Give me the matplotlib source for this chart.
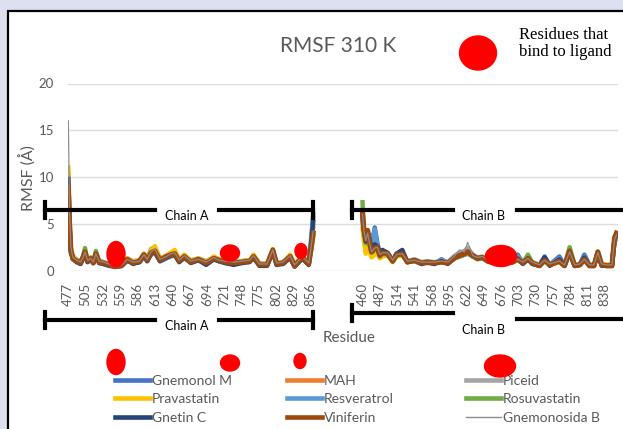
import numpy as np
import matplotlib
matplotlib.use('Agg')
import matplotlib.pyplot as plt
from matplotlib.lines import Line2D
from matplotlib.patches import Ellipse, Rectangle

plt.rcParams['font.family'] = ['Lato', 'DejaVu Sans']

# residues sampled along each chain
res_a = [477, 479, 481, 484, 490, 496, 500, 503, 507, 512, 516, 520, 525, 532, 541, 550, 560,
         569, 578, 588, 595, 600, 606, 612, 620, 630, 637, 643, 650, 658, 668, 680, 692, 704,
         712, 722, 735, 748, 760, 766, 775, 787, 796, 802, 812, 823, 830, 842, 852, 856, 859]
res_b = [460, 462, 465, 468, 471, 474, 479, 483, 487, 491, 499, 507, 513, 522, 530, 541, 552,
         561, 572, 583, 593, 604, 611, 619, 624, 632, 639, 647, 656, 668, 682, 694, 702, 710,
         718, 725, 736, 744, 752, 767, 775, 783, 791, 799, 806, 814, 821, 827, 833, 841, 849,
         853, 856]

tick_a = ['477', '505', '532', '559', '586', '613', '640', '667', '694', '721', '748', '775',
          '802', '829', '856']
tick_b = ['460', '487', '514', '541', '568', '595', '622', '649', '676', '703', '730', '757',
          '784', '811', '838']

names = ['Gnemonol M', 'MAH', 'Piceid', 'Pravastatin', 'Resveratrol', 'Rosuvastatin',
         'Gnetin C', 'Viniferin', 'Gnemonosida B']
colors = ['#4472C4', '#ED7D31', '#A5A5A5', '#FFC000', '#5B9BD5', '#70AD47',
          '#264478', '#9E480E', '#8c8c8c']

# RMSF (A), chain A
gnemonol_a = [10.2, 4.6, 2.0, 1.4, 1.1, 0.7, 1.3, 1.8, 1.1, 1.2, 0.9, 1.6, 1.0, 0.7, 0.5, 0.5, 0.6,
              1.0, 0.9, 0.9, 1.5, 1.2, 1.7, 2.0, 1.0, 1.3, 1.6, 1.7, 0.9, 1.4, 1.0, 1.1, 0.7, 1.2,
              1.0, 0.8, 0.7, 1.0, 1.1, 1.3, 0.7, 0.5, 2.0, 0.6, 0.9, 1.3, 0.6, 1.2, 0.8, 3.5, 6.0]
mah_a = [8.0, 4.2, 2.1, 1.2, 0.9, 0.9, 1.3, 1.9, 0.9, 1.2, 0.9, 1.7, 0.8, 0.7, 0.6, 0.5, 0.6,
         1.1, 0.8, 0.9, 1.6, 1.0, 1.8, 2.0, 1.2, 1.4, 1.6, 1.7, 1.1, 1.4, 1.0, 1.1, 0.9, 1.2,
         1.0, 0.8, 0.9, 0.8, 1.0, 1.4, 0.7, 0.6, 2.0, 0.8, 0.7, 1.4, 0.6, 1.3, 0.6, 2.2, 3.6]
piceid_a = [7.5, 3.8, 2.0, 1.5, 1.2, 0.9, 1.5, 2.1, 1.2, 1.4, 1.0, 1.8, 1.1, 0.9, 0.7, 0.5, 0.7,
            1.3, 1.0, 1.1, 1.8, 1.3, 2.3, 2.5, 1.3, 1.6, 1.9, 2.1, 1.2, 1.6, 1.1, 1.3, 1.0, 1.4,
            1.2, 1.0, 0.9, 1.0, 1.1, 1.6, 0.8, 0.7, 2.1, 0.8, 0.9, 1.6, 0.7, 1.5, 0.8, 2.8, 4.5]
prava_a = [11.0, 5.5, 2.4, 1.6, 1.1, 0.8, 1.5, 1.9, 1.1, 1.4, 0.9, 1.9, 1.0, 0.8, 0.6, 0.5, 0.6,
           1.3, 0.9, 1.1, 1.8, 1.2, 2.1, 2.6, 1.2, 1.6, 1.9, 2.2, 1.1, 1.7, 1.0, 1.3, 0.9, 1.5,
           1.2, 1.0, 0.8, 1.0, 1.1, 1.7, 0.7, 0.7, 2.3, 0.8, 0.8, 1.7, 0.6, 1.6, 0.8, 3.0, 4.8]
resv_a = [8.5, 4.4, 2.0, 1.2, 1.0, 0.8, 1.2, 1.7, 1.0, 1.1, 0.8, 1.6, 0.9, 0.7, 0.6, 0.4, 0.5,
          1.0, 0.8, 0.9, 1.5, 1.0, 1.7, 1.9, 1.0, 1.3, 1.5, 1.6, 1.0, 1.3, 0.9, 1.1, 0.8, 1.2,
          1.0, 0.9, 0.8, 0.9, 1.0, 1.3, 0.6, 0.6, 1.9, 0.7, 0.8, 1.3, 0.5, 1.3, 0.7, 3.2, 5.6]
rosu_a = [7.0, 3.5, 1.8, 1.3, 1.0, 0.9, 1.5, 2.4, 1.0, 1.3, 0.9, 2.1, 0.9, 0.8, 0.6, 0.5, 0.6,
          1.1, 0.8, 1.0, 1.6, 1.1, 1.8, 2.0, 1.1, 1.4, 1.6, 1.7, 1.0, 1.5, 0.9, 1.2, 0.8, 1.3,
          1.1, 0.9, 0.8, 0.9, 1.0, 1.5, 0.6, 0.6, 2.1, 0.7, 0.8, 1.5, 0.5, 1.4, 0.7, 2.4, 3.8]
gnetin_a = [9.8, 4.8, 2.1, 1.3, 0.9, 0.7, 1.3, 1.9, 0.9, 1.2, 0.8, 1.7, 0.8, 0.7, 0.5, 0.4, 0.5,
            1.1, 0.7, 0.9, 1.6, 1.0, 1.8, 2.0, 1.0, 1.4, 1.6, 1.7, 0.9, 1.4, 0.8, 1.1, 0.6, 1.2,
            1.0, 0.8, 0.6, 0.8, 0.9, 1.4, 0.5, 0.5, 2.1, 0.6, 0.7, 1.4, 0.4, 1.3, 0.6, 3.0, 5.2]
vinif_a = [9.0, 5.0, 2.2, 1.3, 1.0, 0.8, 1.4, 2.0, 1.0, 1.3, 0.8, 1.8, 0.9, 0.8, 0.6, 0.4, 0.5,
           1.2, 0.8, 1.0, 1.7, 1.1, 1.9, 2.1, 1.1, 1.5, 1.7, 1.8, 1.0, 1.5, 0.9, 1.2, 0.8, 1.3,
           1.1, 0.9, 0.8, 0.9, 1.0, 1.5, 0.6, 0.6, 2.2, 0.7, 0.8, 1.5, 0.5, 1.4, 0.7, 2.5, 4.0]
gnemonosida_a = [16.0, 6.0, 2.5, 1.4, 1.1, 0.9, 1.4, 2.0, 1.1, 1.3, 0.9, 1.8, 1.0, 0.9, 0.7, 0.5,
                 0.6, 1.2, 0.9, 1.0, 1.7, 1.2, 2.0, 2.3, 1.2, 1.5, 1.8, 1.9, 1.1, 1.6, 1.0, 1.2,
                 0.9, 1.4, 1.1, 1.0, 0.9, 1.0, 1.1, 1.6, 0.7, 0.7, 2.2, 0.8, 0.9, 1.6, 0.6, 1.5,
                 0.8, 2.6, 4.2]

# RMSF (A), chain B
gnemonol_b = [5.8, 4.0, 3.0, 3.6, 3.8, 2.6, 4.6, 3.0, 1.8, 2.0, 1.7, 1.1, 1.8, 1.9, 1.0, 1.0, 0.7,
              0.9, 0.7, 1.2, 0.8, 1.3, 1.5, 1.7, 1.8, 1.5, 1.4, 1.3, 1.1, 0.7, 0.9, 1.0, 1.7, 0.8,
              1.2, 0.7, 0.6, 1.5, 0.6, 1.5, 0.6, 1.8, 0.6, 0.7, 1.7, 0.6, 0.6, 1.7, 0.6, 0.5, 0.5,
              3.0, 3.6]
mah_b = [5.5, 4.2, 3.1, 3.9, 2.8, 1.9, 2.2, 2.3, 1.5, 1.8, 1.7, 1.0, 1.6, 1.7, 0.9, 1.0, 0.8,
         0.8, 0.8, 0.9, 0.8, 1.3, 1.5, 1.7, 1.9, 1.5, 1.2, 1.3, 0.9, 0.8, 0.8, 0.9, 1.1, 0.8,
         1.2, 0.8, 0.5, 1.0, 0.6, 0.9, 0.5, 1.9, 0.5, 0.6, 1.1, 0.5, 0.5, 1.8, 0.6, 0.5, 0.5,
         3.2, 3.8]
piceid_b = [5.0, 3.8, 2.8, 3.5, 2.6, 2.0, 2.3, 2.2, 1.6, 1.8, 1.9, 1.1, 1.6, 1.7, 1.0, 1.2, 0.9,
            1.0, 0.9, 1.0, 0.9, 1.6, 1.9, 2.1, 2.4, 1.7, 1.4, 1.5, 1.1, 0.9, 0.9, 1.0, 1.2, 0.9,
            1.3, 0.9, 0.6, 1.1, 0.7, 1.0, 0.6, 1.9, 0.6, 0.7, 1.2, 0.6, 0.6, 1.9, 0.7, 0.6, 0.6,
            3.0, 3.4]
prava_b = [4.5, 3.2, 1.8, 2.5, 2.0, 1.4, 1.7, 1.9, 1.3, 1.5, 1.6, 0.9, 1.5, 1.6, 0.9, 1.0, 0.8,
           0.9, 0.8, 0.9, 0.8, 1.3, 1.5, 1.7, 1.9, 1.5, 1.3, 1.4, 1.0, 0.8, 0.8, 0.9, 1.1, 0.9,
           1.3, 0.8, 0.6, 1.0, 0.6, 1.0, 0.6, 2.0, 0.6, 0.6, 1.1, 0.6, 0.6, 2.0, 0.7, 0.6, 0.6,
           3.3, 3.7]
resv_b = [6.0, 4.4, 3.2, 3.4, 3.6, 2.4, 4.4, 2.8, 1.7, 1.9, 1.7, 1.0, 1.7, 1.8, 0.9, 1.0, 0.8,
          0.8, 0.8, 1.1, 0.8, 1.3, 1.5, 1.7, 1.9, 1.5, 1.3, 1.3, 1.0, 0.8, 0.8, 0.9, 1.5, 0.8,
          1.2, 0.8, 0.5, 1.3, 0.6, 1.3, 0.5, 1.9, 0.5, 0.6, 1.5, 0.5, 0.5, 1.8, 0.6, 0.5, 0.5,
          3.2, 3.8]
rosu_b = [7.3, 4.0, 2.9, 3.7, 2.7, 1.9, 2.2, 2.3, 1.5, 1.8, 1.7, 1.0, 1.6, 1.7, 0.9, 1.0, 0.8,
          0.9, 0.8, 0.9, 0.8, 1.4, 1.5, 1.7, 1.9, 1.5, 1.3, 1.3, 1.0, 0.8, 0.8, 0.9, 1.2, 0.8,
          1.7, 0.8, 0.5, 1.0, 0.6, 1.0, 0.5, 2.5, 0.5, 0.6, 1.2, 0.5, 0.5, 1.9, 0.6, 0.5, 0.5,
          3.4, 3.9]
gnetin_b = [5.9, 4.3, 3.1, 4.0, 3.4, 2.2, 2.8, 2.6, 1.7, 2.2, 1.9, 1.0, 1.8, 2.2, 0.9, 1.1, 0.7,
            0.9, 0.7, 1.0, 0.7, 1.4, 1.6, 1.8, 2.0, 1.6, 1.3, 1.4, 1.0, 0.7, 0.8, 0.9, 1.3, 0.7,
            1.2, 0.7, 0.5, 1.4, 0.5, 1.2, 0.5, 1.9, 0.5, 0.6, 1.4, 0.5, 0.5, 1.8, 0.5, 0.5, 0.5,
            3.3, 3.8]
vinif_b = [6.2, 4.5, 3.3, 4.3, 3.0, 2.0, 2.4, 2.5, 1.6, 1.9, 1.8, 1.0, 1.7, 1.8, 0.9, 1.1, 0.8,
           0.9, 0.8, 0.9, 0.8, 1.4, 1.6, 1.8, 2.0, 1.6, 1.3, 1.4, 1.0, 0.8, 0.8, 0.9, 1.2, 0.8,
           1.3, 0.8, 0.5, 1.1, 0.6, 1.0, 0.5, 2.1, 0.5, 0.6, 1.2, 0.5, 0.5, 2.0, 0.6, 0.5, 0.5,
           3.5, 4.0]
gnemonosida_b = [6.0, 4.3, 3.2, 4.0, 2.9, 2.0, 2.4, 2.5, 1.7, 1.9, 1.9, 1.1, 1.7, 1.8, 1.0, 1.1,
                 0.9, 0.9, 0.9, 1.0, 0.9, 1.6, 2.2, 2.0, 3.0, 1.6, 1.4, 1.5, 1.1, 0.9, 0.9, 1.0,
                 1.2, 0.9, 1.3, 0.9, 0.6, 1.1, 0.7, 1.0, 0.6, 2.0, 0.6, 0.7, 1.2, 0.6, 0.6, 1.9,
                 0.7, 0.6, 0.6, 3.3, 3.8]

series_a = [gnemonol_a, mah_a, piceid_a, prava_a, resv_a, rosu_a, gnetin_a, vinif_a, gnemonosida_a]
series_b = [gnemonol_b, mah_b, piceid_b, prava_b, resv_b, rosu_b, gnetin_b, vinif_b, gnemonosida_b]

W, H = 623, 429


def fx(px):
    return px / W


def fy(py):
    return 1 - py / H


# category index like excel: chain A from 0, chain B after a blank gap
xa = np.array(res_a) - 477
xb = np.array(res_b) - 1

fig = plt.figure(figsize=(W / 100, H / 100), dpi=100)
fig.patch.set_facecolor('#dde0f0')
fig.add_artist(Rectangle((fx(7.5), -0.05), 1.2, fy(10.5) + 0.05, transform=fig.transFigure,
                         facecolor='white', edgecolor='black', lw=1.6, zorder=-1))

ax = fig.add_axes([fx(68), fy(270.5), 550 / W, 187 / H])
ax.patch.set_alpha(0)
for i, name in enumerate(names):
    x = np.concatenate([xa, [np.nan], xb])
    y = np.concatenate([series_a[i], [np.nan], series_b[i]])
    if name == 'Gnemonosida B':
        lw = 0.9
    elif name == 'Viniferin':
        lw = 3.6
    else:
        lw = 3.2
    ax.plot(x, y, color=colors[i], lw=lw, label=name, solid_joinstyle='round')

ax.set_xlim(-0.5, 857.5)
ax.set_ylim(0, 20)
ax.set_yticks([0, 5, 10, 15, 20])
ax.grid(axis='y', color='#dcdcdc', lw=1)
ax.set_axisbelow(True)
for s in ax.spines.values():
    s.set_visible(False)
ticks = list(range(0, 379, 27)) + list(range(459, 838, 27))
ax.set_xticks(ticks)
ax.set_xticklabels(tick_a + tick_b, rotation=90)
ax.tick_params(length=0, colors='#595959', labelsize=9.5)
ax.tick_params(axis='x', pad=9)
ax.tick_params(axis='y', pad=10)

fig.text(fx(28), fy(178), 'RMSF (Å)', rotation=90, ha='center', va='center',
         fontsize=11.5, color='#595959')
fig.text(fx(349), fy(338), 'Residue', ha='center', va='center', fontsize=11, color='#595959')
fig.text(fx(338), fy(46), 'RMSF 310 K', ha='center', va='center', fontsize=15, color='#595959')
fig.text(fx(519), fy(27), 'Residues that\nbind to ligand', ha='left', va='top',
         family='Liberation Serif', fontsize=12, linespacing=1.05)


def seg(x0, y0, x1, y1):
    fig.add_artist(Line2D([fx(x0), fx(x1)], [fy(y0), fy(y1)], color='black', lw=3,
                          transform=fig.transFigure, zorder=5))


# chain brackets
for yb, ya_txt in [(210, 216), (320, 326)]:
    seg(45, yb, 155, yb)
    seg(219, yb, 313, yb)
    seg(45, yb - 8, 45, yb + 8)
    seg(313, yb - 8, 313, yb + 8)
    fig.text(fx(187), fy(ya_txt), 'Chain A', ha='center', va='center', fontsize=9, zorder=5)
seg(352, 210, 453, 210)
seg(517, 210, 630, 210)
seg(352, 202, 352, 218)
fig.text(fx(484), fy(216), 'Chain B', ha='center', va='center', fontsize=9, zorder=5)
seg(352, 313, 453, 313)
seg(517, 319, 630, 319)
seg(352, 305, 352, 321)
fig.text(fx(483), fy(330), 'Chain B', ha='center', va='center', fontsize=9, zorder=5)

# red marks for ligand binding residues
spots = [(478, 53, 37, 34),
         (116, 254, 18, 25), (230, 253, 19, 16), (301, 251, 12, 15), (501, 256, 31, 21),
         (116, 362, 18, 25), (230, 363, 19, 16), (300, 361, 12, 15), (500, 366, 31, 22)]
for cx, cy, w, h in spots:
    fig.add_artist(Ellipse((fx(cx), fy(cy)), w / W, h / H, color='red',
                           transform=fig.transFigure, zorder=6))

# legend, three columns like excel
cols = [[0, 3, 6], [1, 4, 7], [2, 5, 8]]
col_x = [115, 287, 466]
for c, idx in enumerate(cols):
    hs = []
    for k in idx:
        lw = 1 if names[k] == 'Gnemonosida B' else 3.3
        hs.append(Line2D([], [], color=colors[k], lw=lw))
    fig.legend(hs, [names[k] for k in idx], loc='upper left',
               bbox_to_anchor=(fx(col_x[c]), fy(375)), frameon=False,
               borderpad=0, borderaxespad=0, handlelength=2.5, handletextpad=0.15,
               labelspacing=0.45, fontsize=10, labelcolor='#595959')

fig.savefig('out.png', dpi=100, facecolor=fig.get_facecolor())
